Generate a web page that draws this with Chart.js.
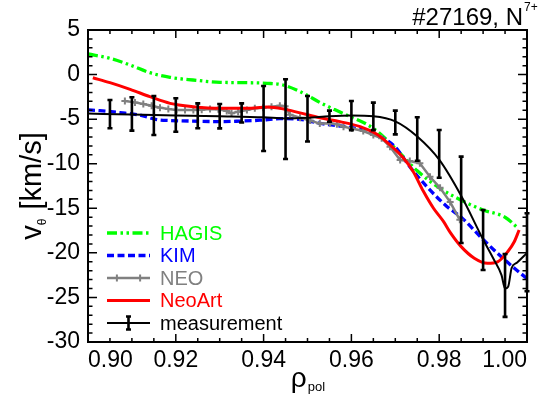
<!DOCTYPE html>
<html>
<head>
<meta charset="utf-8">
<script src="https://cdn.jsdelivr.net/npm/chart.js@4.4.1/dist/chart.umd.min.js"></script>
<style>
  html, body { margin: 0; padding: 0; background: #fff; }
</style>
</head>
<body>
<canvas id="chart" width="556" height="398"></canvas>
<script>
const FONT = "'Liberation Sans', Arial, Helvetica, sans-serif"

// measurement: points with error bars
const measRho = [0.905, 0.910, 0.915, 0.920, 0.925, 0.930, 0.935, 0.940, 0.945, 0.950,
                 0.955, 0.960, 0.965, 0.970, 0.975, 0.980, 0.985, 0.990, 0.995, 1.000]
const measV   = [-4.44, -4.42, -4.59, -4.54, -4.63, -4.67, -4.30, -4.93, -5.00, -4.95,
                 -4.67, -4.60, -4.69, -5.38, -7.22, -8.90, -14.05, -18.56, -23.65, -19.93]
const measErr = [1.59, 1.87, 2.19, 1.88, 1.40, 1.37, 1.07, 3.65, 4.47, 2.55,
                 0.62, 1.63, 1.54, 1.33, 2.44, 2.68, 4.85, 3.37, 3.53, 4.37]

// smooth fit through the measurement
const fitRho = [0.900, 0.910, 0.920, 0.930, 0.940, 0.945, 0.950, 0.955, 0.960, 0.965, 0.970,
                0.975, 0.980, 0.985, 0.990, 0.9923, 0.9942, 0.9950, 0.9957, 0.9965, 0.9977, 1.000]
const fitV   = [-4.38, -4.48, -4.58, -4.68, -4.80, -4.92, -4.85, -4.68, -4.60, -4.68, -5.25,
                -6.95, -9.55, -13.6, -18.5, -20.6, -22.5, -24.0, -23.8, -21.7, -21.1, -20.0]

// HAGIS
const hagisRho = [0.900, 0.905, 0.9096, 0.9141, 0.9187, 0.9239, 0.9301, 0.9362, 0.9408, 0.9444,
                  0.9485, 0.9532, 0.9580, 0.9650, 0.9700, 0.9750, 0.9800, 0.9850, 0.9900, 0.9950, 0.9979]
const hagisV   = [2.31, 1.82, 1.07, 0.21, -0.31, -0.61, -0.87, -0.91, -0.98, -1.17,
                  -1.95, -3.23, -4.35, -6.03, -8.27, -10.8, -12.7, -14.1, -15.2, -16.0, -17.2]

// KIM
const kimRho = [0.900, 0.9027, 0.9073, 0.9118, 0.9157, 0.9187, 0.9239, 0.9301, 0.9346, 0.9392,
                0.9437, 0.9483, 0.9528, 0.9574, 0.9620, 0.9665, 0.9699, 0.9733, 0.9772, 0.9818,
                0.9850, 0.9900, 0.9945, 1.000]
const kimV   = [-3.97, -4.05, -4.27, -4.54, -5.05, -5.15, -5.22, -5.28, -5.22, -5.12,
                -4.95, -5.02, -5.47, -5.77, -6.14, -6.97, -8.09, -10.33, -12.58, -14.82,
                -16.0, -18.5, -20.6, -22.9]

// NEO
const neoRho = [0.9084, 0.9107, 0.9126, 0.9145, 0.9164, 0.9183, 0.9202, 0.9221, 0.9240, 0.9259,
                0.9278, 0.9297, 0.9316, 0.9327, 0.9342, 0.9362, 0.9380, 0.9399, 0.9418, 0.9437,
                0.9449, 0.9460, 0.9483, 0.9506, 0.9528, 0.9551, 0.9567, 0.9582, 0.9601, 0.9627,
                0.9650, 0.9669, 0.9688, 0.9711, 0.9733, 0.9756, 0.9779, 0.9802, 0.9825, 0.9847]
const neoV   = [-2.97, -3.12, -3.30, -3.49, -3.71, -3.86, -3.97, -3.97, -3.97, -3.94,
                -3.86, -3.90, -4.09, -4.35, -4.16, -3.97, -3.79, -3.71, -3.60, -3.49,
                -3.55, -4.50, -4.85, -5.15, -5.50, -5.45, -5.58, -5.84, -6.05, -6.33,
                -6.78, -7.15, -8.09, -9.58, -9.69, -9.95, -11.46, -12.7, -14.3, -16.3]

// NeoArt
const neoartRho = [0.9011, 0.9050, 0.9096, 0.9141, 0.9187, 0.9239, 0.9301, 0.9362, 0.9408, 0.9444,
                   0.9483, 0.9528, 0.9574, 0.9620, 0.9658, 0.9688, 0.9719, 0.9741, 0.9764, 0.9787,
                   0.9810, 0.9825, 0.9850, 0.9880, 0.9910, 0.9933, 0.9956, 0.9971, 0.9982]
const neoartV   = [-0.35, -0.91, -1.66, -2.48, -3.23, -3.60, -3.79, -3.79, -3.65, -3.85,
                   -4.30, -4.84, -5.28, -5.84, -6.70, -7.90, -9.39, -10.9, -13.1, -15.0,
                   -16.5, -17.7, -19.3, -20.6, -21.17, -21.0, -19.87, -18.75, -17.44]

// axes
const xMin = 0.90, xMax = 1.00, xStep = 0.02, xMinor = 0.005
const yMin = -30, yMax = 5, yStep = 5, yMinor = 1

const pts = (xs, ys) => xs.map((x, i) => ({ x, y: ys[i] }))

// inward ticks on all four sides plus the box
const framePlugin = {
  id: 'frame',
  afterDatasetsDraw(chart) {
    const { ctx, chartArea: a, scales: { x, y } } = chart
    ctx.save()
    ctx.strokeStyle = '#000'
    ctx.lineWidth = 1.5
    ctx.beginPath()
    const nx = Math.round((xMax - xMin) / xMinor)
    const perX = Math.round(xStep / xMinor)
    for (let i = 0; i <= nx; i++) {
      const px = x.getPixelForValue(xMin + i * xMinor)
      const len = i % perX === 0 ? 8 : 4
      ctx.moveTo(px, a.bottom); ctx.lineTo(px, a.bottom - len)
      ctx.moveTo(px, a.top); ctx.lineTo(px, a.top + len)
    }
    for (let v = yMin; v <= yMax; v += yMinor) {
      const py = y.getPixelForValue(v)
      const len = v % yStep === 0 ? 9 : 4.5
      ctx.moveTo(a.left, py); ctx.lineTo(a.left + len, py)
      ctx.moveTo(a.right, py); ctx.lineTo(a.right - len, py)
    }
    ctx.stroke()
    ctx.lineWidth = 2
    ctx.strokeRect(a.left, a.top, a.right - a.left, a.bottom - a.top)
    ctx.restore()
  }
}

// vertical error bars with small caps
const errorBarPlugin = {
  id: 'errorBars',
  afterDatasetsDraw(chart) {
    const { ctx, scales: { y } } = chart
    chart.data.datasets.forEach((ds, di) => {
      if (!ds.errors) return
      const meta = chart.getDatasetMeta(di)
      ctx.save()
      ctx.strokeStyle = ds.barColor
      ctx.lineWidth = 2.6
      meta.data.forEach((pt, i) => {
        const v = ds.data[i].y
        const top = y.getPixelForValue(v + ds.errors[i])
        const bot = y.getPixelForValue(v - ds.errors[i])
        ctx.beginPath()
        ctx.moveTo(pt.x, top); ctx.lineTo(pt.x, bot)
        ctx.moveTo(pt.x - 2.5, top); ctx.lineTo(pt.x + 2.5, top)
        ctx.moveTo(pt.x - 2.5, bot); ctx.lineTo(pt.x + 2.5, bot)
        ctx.stroke()
      })
      ctx.restore()
    })
  }
}

function drawCross(ctx, cx, cy, r) {
  ctx.beginPath()
  ctx.moveTo(cx - r, cy); ctx.lineTo(cx + r, cy)
  ctx.moveTo(cx, cy - r); ctx.lineTo(cx, cy + r)
  ctx.stroke()
}

// legend inside the plot, lower left
const legendPlugin = {
  id: 'insideLegend',
  afterDraw(chart) {
    const { ctx, chartArea: a } = chart
    const x0 = a.left + 19, x1 = a.left + 62
    let yy = a.top + 203
    ctx.save()
    chart.data.datasets.forEach(ds => {
      if (!ds.inLegend) return
      ctx.strokeStyle = ds.borderColor
      ctx.lineWidth = ds.borderWidth
      ctx.setLineDash(ds.borderDash || [])
      ctx.beginPath()
      ctx.moveTo(x0, yy); ctx.lineTo(x1, yy)
      ctx.stroke()
      ctx.setLineDash([])
      if (ds.pointStyle === 'cross') {
        ctx.lineWidth = 2
        drawCross(ctx, x0 + (x1 - x0) * 0.23, yy, 3.5)
        drawCross(ctx, x0 + (x1 - x0) * 0.77, yy, 3.5)
      }
      if (ds.legendErrorBar) {
        const mx = (x0 + x1) / 2
        ctx.lineWidth = 2.6
        ctx.beginPath()
        ctx.moveTo(mx, yy - 6.5); ctx.lineTo(mx, yy + 6.5)
        ctx.moveTo(mx - 2.5, yy - 6.5); ctx.lineTo(mx + 2.5, yy - 6.5)
        ctx.moveTo(mx - 2.5, yy + 6.5); ctx.lineTo(mx + 2.5, yy + 6.5)
        ctx.stroke()
      }
      ctx.fillStyle = ds.borderColor
      ctx.font = `20px ${FONT}`
      ctx.textBaseline = 'middle'
      ctx.textAlign = 'left'
      ctx.fillText(ds.label, x1 + 10, yy + 1)
      yy += 22.5
    })
    ctx.restore()
  }
}

// title and axis titles with sub/superscripts
const textPlugin = {
  id: 'texts',
  afterDraw(chart) {
    const { ctx, chartArea: a } = chart
    ctx.save()
    ctx.fillStyle = '#000'
    ctx.textBaseline = 'alphabetic'

    // title, top right
    ctx.font = `24px ${FONT}`
    ctx.textAlign = 'right'
    ctx.fillText('#27169, N', a.right - 4, 25)
    ctx.font = `12px ${FONT}`
    ctx.textAlign = 'left'
    ctx.fillText('7+', a.right - 3, 11)

    // x title: rho_pol
    const big = `28px ${FONT}`, small = `13px ${FONT}`
    ctx.font = big
    const wRho = ctx.measureText('ρ').width
    ctx.font = small
    const wPol = ctx.measureText('pol').width
    const sx = (a.left + a.right) / 2 - (wRho + wPol) / 2
    ctx.font = big
    ctx.fillText('ρ', sx, 387)
    ctx.font = small
    ctx.fillText('pol', sx + wRho + 1, 391)

    // y title: v_theta [km/s]
    const yb = `29px ${FONT}`, ys = `12px ${FONT}`
    ctx.font = yb
    const wV = ctx.measureText('v').width
    const wRest = ctx.measureText(' [km/s]').width
    ctx.font = ys
    const wTh = ctx.measureText('θ').width
    const total = wV + wTh + 1 + wRest
    ctx.translate(41, (a.top + a.bottom) / 2)
    ctx.rotate(-Math.PI / 2)
    let tx = -total / 2
    ctx.font = yb
    ctx.fillText('v', tx, 0)
    tx += wV
    ctx.font = ys
    ctx.fillText('θ', tx, 5)
    tx += wTh + 1
    ctx.font = yb
    ctx.fillText(' [km/s]', tx, 0)
    ctx.restore()
  }
}

new Chart(document.getElementById('chart'), {
  type: 'line',
  data: {
    datasets: [
      {
        label: 'HAGIS',
        data: pts(hagisRho, hagisV),
        borderColor: '#00ff00',
        borderWidth: 3.3,
        borderDash: [10, 3.5, 2.5, 3.5, 2.5, 3.5],
        pointRadius: 0,
        cubicInterpolationMode: 'monotone',
        inLegend: true,
        order: 5
      },
      {
        label: 'KIM',
        data: pts(kimRho, kimV),
        borderColor: '#0000ff',
        borderWidth: 3.3,
        borderDash: [7, 3.5],
        pointRadius: 0,
        cubicInterpolationMode: 'monotone',
        inLegend: true,
        order: 4
      },
      {
        label: 'NEO',
        data: pts(neoRho, neoV),
        borderColor: '#808080',
        borderWidth: 2.5,
        pointStyle: 'cross',
        pointRadius: 3.5,
        pointBorderWidth: 2,
        pointBorderColor: '#808080',
        tension: 0,
        inLegend: true,
        order: 3
      },
      {
        label: 'NeoArt',
        data: pts(neoartRho, neoartV),
        borderColor: '#ff0000',
        borderWidth: 3,
        pointRadius: 0,
        cubicInterpolationMode: 'monotone',
        inLegend: true,
        order: 2
      },
      {
        label: 'measurement',
        data: pts(fitRho, fitV),
        borderColor: '#000',
        borderWidth: 2,
        pointRadius: 0,
        cubicInterpolationMode: 'monotone',
        inLegend: true,
        legendErrorBar: true,
        order: 1
      },
      {
        label: 'measurement points',
        data: pts(measRho, measV),
        errors: measErr,
        barColor: '#000',
        showLine: false,
        pointRadius: 0,
        order: 0
      }
    ]
  },
  options: {
    responsive: false,
    animation: false,
    devicePixelRatio: 1,
    layout: { padding: { top: 30, right: 29, left: 0, bottom: 0 } },
    plugins: {
      legend: { display: false },
      tooltip: { enabled: false },
      title: { display: false }
    },
    scales: {
      x: {
        type: 'linear',
        min: xMin,
        max: xMax,
        grid: { display: false, drawTicks: false },
        border: { display: false },
        ticks: {
          stepSize: xStep,
          align: 'inner',
          padding: 5,
          color: '#000',
          maxRotation: 0,
          autoSkip: false,
          font: { family: FONT, size: 23 },
          callback: v => v.toFixed(2)
        },
        afterFit: s => { s.height = 56 }
      },
      y: {
        min: yMin,
        max: yMax,
        grid: { display: false, drawTicks: false },
        border: { display: false },
        ticks: {
          stepSize: yStep,
          padding: 8,
          color: '#000',
          font: { family: FONT, size: 23 }
        },
        afterFit: s => { s.width = 88 }
      }
    }
  },
  plugins: [framePlugin, errorBarPlugin, legendPlugin, textPlugin]
})
</script>
</body>
</html>
